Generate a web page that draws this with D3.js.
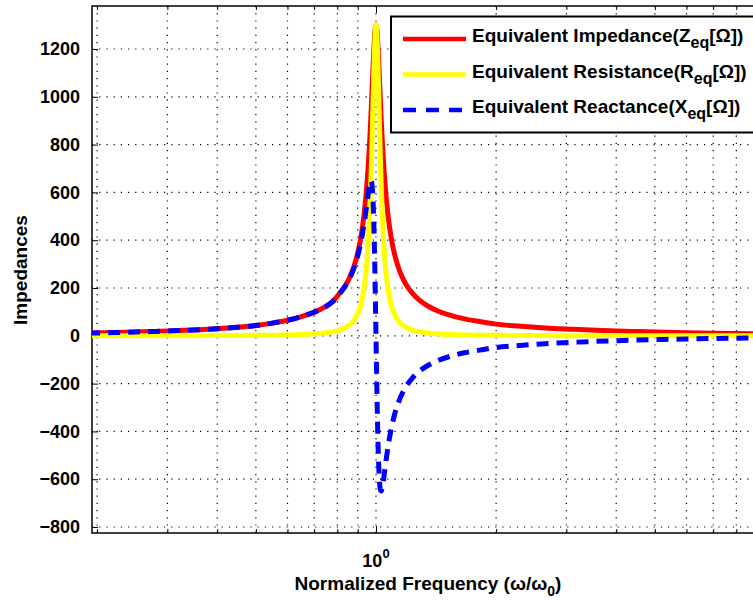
<!DOCTYPE html>
<html><head><meta charset="utf-8">
<script src="https://cdn.jsdelivr.net/npm/d3@7"></script>
<style>
body{margin:0;background:#fff}
svg{display:block}
text{font-family:"Liberation Sans",Arial,Helvetica,sans-serif;font-weight:bold;fill:#000}
</style>
</head><body>
<svg id="chart" width="753" height="600"></svg>
<script>
// ---- data ----
const freq = [0.19,0.22,0.25,0.28,0.32,0.36,0.4,0.45,0.5,0.55,0.6,0.65,0.7,0.74,0.78,0.81,0.84,0.86,0.88,0.9,0.91,0.92,0.93,0.94,0.95,0.955,0.96,0.965,0.97,0.975,0.98,0.985,0.99,0.995,1,
  1.005,1.0101,1.0152,1.0204,1.0256,1.0309,1.0363,1.0417,1.0471,1.0526,1.0638,1.0753,1.087,1.0989,1.1111,1.1364,1.1628,1.1905,1.2346,1.2821,1.3514,1.4286,1.5385,1.6667,1.8182,2,2.2222,2.5,2.7778,3.125,3.5714,4,4.5455,5.2632,6,7,8,10];
const impedance = [11.0,13.5,16.0,18.5,22.0,25.5,29.5,35.5,43.0,53.0,65.0,80.0,99.0,118.0,145.0,177.3,213.9,246.5,289.0,346.9,384.4,429.6,485.4,555.0,643.5,696.6,756.7,824.5,900.0,982.6,1069.4,1154.7,1229.4,1281.3,1300,
  1281.3,1229.4,1154.7,1069.4,982.6,900.0,824.5,756.7,696.6,643.5,555.0,485.4,429.6,384.4,346.9,289.0,246.5,213.9,177.3,150.4,123.8,104.0,85.4,71.1,59.9,49.0,42.0,35.5,31.0,27.0,23.0,20.3,17.6,15.0,13.0,11.1,9.7,7.7];
const resistance = [0.2,0.2,0.3,0.4,0.6,0.8,1.0,1.4,2.0,2.8,3.9,5.6,8.3,11.8,17.4,24.2,35.2,46.7,64.3,92.6,113.6,142.0,181.2,236.9,318.5,373.3,440.4,522.9,623.1,742.7,879.7,1025.7,1162.5,1262.9,1300,
  1262.9,1162.5,1025.7,879.7,742.7,623.1,522.9,440.4,373.3,318.5,236.9,181.2,142.0,113.6,92.6,64.3,46.7,35.2,24.2,17.4,11.8,8.3,5.6,3.9,2.8,2.0,1.4,1.0,0.8,0.6,0.4,0.3,0.2,0.2,0.1,0.1,0.1,0.0];
const reactance = [11.0,13.5,16.0,18.5,22.0,25.5,29.5,35.5,43.0,53.0,65.0,80.0,98.7,117.4,144.0,175.7,211.0,242.0,281.8,334.4,367.2,405.5,450.3,501.9,559.1,588.1,615.3,637.5,649.4,643.4,608.1,530.4,399.7,216.6,0,
  -216.6,-399.7,-530.4,-608.1,-643.4,-649.4,-637.5,-615.3,-588.1,-559.1,-501.9,-450.3,-405.5,-367.2,-334.4,-281.8,-242.0,-211.0,-175.7,-149.4,-123.2,-103.7,-85.2,-71.0,-59.8,-49.0,-42.0,-35.5,-31.0,-27.0,-23.0,-20.3,-17.6,-15.0,-13.0,-11.1,-9.7,-7.7];
const yTicks = [-800,-600,-400,-200,0,200,400,600,800,1000,1200];
const xMajorTicks = [1];
const xMinorTicks = [0.2,0.3,0.4,0.5,0.6,0.7,0.8,0.9,2,3,4,5,6,7,8,9];
const seriesNames = ["Equivalent Impedance", "Equivalent Resistance", "Equivalent Reactance"];
const seriesSymbols = ["Z","R","X"];
const seriesColors = ["#ff0000","#ffff00","#0000ff"];

// ---- layout ----
const L = 92, T = 6, B = 533, Rt = 775;
const svg = d3.select("#chart");
const x = d3.scaleLog().domain([0.1942, 10]).range([L, Rt]);
const y = d3.scaleLinear().domain([-825, 1380]).range([B, T]);

svg.append("defs").append("clipPath").attr("id","clip")
  .append("rect").attr("x",L).attr("y",T).attr("width",Rt-L).attr("height",B-T);

// grid
const grid = svg.append("g").attr("stroke","#000").attr("stroke-width",1.2).attr("stroke-dasharray","1.2,6");
grid.selectAll("line.h").data(yTicks).join("line")
  .attr("x1",L).attr("x2",Rt).attr("y1",d=>y(d)).attr("y2",d=>y(d));
grid.selectAll("line.v").data(xMinorTicks.concat(xMajorTicks)).join("line")
  .attr("y1",T).attr("y2",B).attr("x1",d=>x(d)).attr("x2",d=>x(d));

// axes
const axL = d3.axisLeft(y).tickValues(yTicks).tickSize(-6).tickPadding(12).tickFormat(d3.format("d"));
const gL = svg.append("g").attr("transform",`translate(${L},0)`).call(axL);
gL.selectAll("text").style("font-size","18px");
const axB = d3.axisBottom(x).tickValues(xMinorTicks).tickSize(-4).tickFormat("");
svg.append("g").attr("transform",`translate(0,${B})`).call(axB);
const axBM = d3.axisBottom(x).tickValues(xMajorTicks).tickSize(-7).tickFormat("");
svg.append("g").attr("transform",`translate(0,${B})`).call(axBM);
const axT = d3.axisTop(x).tickValues(xMinorTicks).tickSize(-4).tickFormat("");
svg.append("g").attr("transform",`translate(0,${T})`).call(axT);
const axTM = d3.axisTop(x).tickValues(xMajorTicks).tickSize(-7).tickFormat("");
svg.append("g").attr("transform",`translate(0,${T})`).call(axTM);
svg.selectAll(".domain").remove();
svg.selectAll(".tick line").attr("stroke","#000").attr("stroke-width",1);

// frame
svg.append("rect").attr("x",L).attr("y",T).attr("width",Rt-L).attr("height",B-T)
  .attr("fill","none").attr("stroke","#000").attr("stroke-width",1.5);

// x tick label 10^0
xMajorTicks.forEach(v=>{
  const t = svg.append("text").attr("x",x(v)).attr("y",567).attr("text-anchor","middle").style("font-size","18px");
  t.append("tspan").text("10");
  t.append("tspan").attr("dy",-9).style("font-size","13px").text(Math.round(Math.log10(v)));
});

// lines
const data = freq.map((f,i)=>({f, z:impedance[i], r:resistance[i], x:reactance[i]}));
const plot = svg.append("g").attr("clip-path","url(#clip)");
const mk = key => d3.line().x(d=>x(d.f)).y(d=>y(d[key])).curve(d3.curveMonotoneX);
plot.append("path").datum(data).attr("d",mk("z")).attr("fill","none").attr("stroke",seriesColors[0]).attr("stroke-width",5).attr("stroke-linejoin","round");
plot.append("path").datum(data).attr("d",mk("r")).attr("fill","none").attr("stroke",seriesColors[1]).attr("stroke-width",5).attr("stroke-linejoin","round");
plot.append("path").datum(data).attr("d",mk("x")).attr("fill","none").attr("stroke",seriesColors[2]).attr("stroke-width",5).attr("stroke-dasharray","12,8").attr("stroke-linejoin","round");

// legend
const lg = svg.append("g");
lg.append("rect").attr("x",391).attr("y",16.5).attr("width",366).attr("height",116)
  .attr("fill","#fff").attr("stroke","#000").attr("stroke-width",2);
seriesNames.forEach((n,i)=>{
  const yy = 39 + i*35.5;
  lg.append("line").attr("x1",403).attr("x2",466).attr("y1",yy).attr("y2",yy)
    .attr("stroke",seriesColors[i]).attr("stroke-width",4.5)
    .attr("stroke-dasharray", i===2 ? "13,10" : null);
  const t = lg.append("text").attr("x",472).attr("y",yy+3).style("font-size","19px");
  t.append("tspan").text(n + "(" + seriesSymbols[i]);
  t.append("tspan").attr("dy",6).style("font-size","16px").text("eq");
  t.append("tspan").attr("dy",-6).text("[Ω])");
});

// axis titles
const xt = svg.append("text").attr("x",428).attr("y",590).attr("text-anchor","middle").style("font-size","19px");
xt.append("tspan").text("Normalized Frequency (ω/ω");
xt.append("tspan").attr("dy",6).style("font-size","14px").text("0");
xt.append("tspan").attr("dy",-6).text(")");
svg.append("text").attr("transform","translate(27,270) rotate(-90)").attr("text-anchor","middle")
  .style("font-size","19px").text("Impedances");
</script>
</body></html>
